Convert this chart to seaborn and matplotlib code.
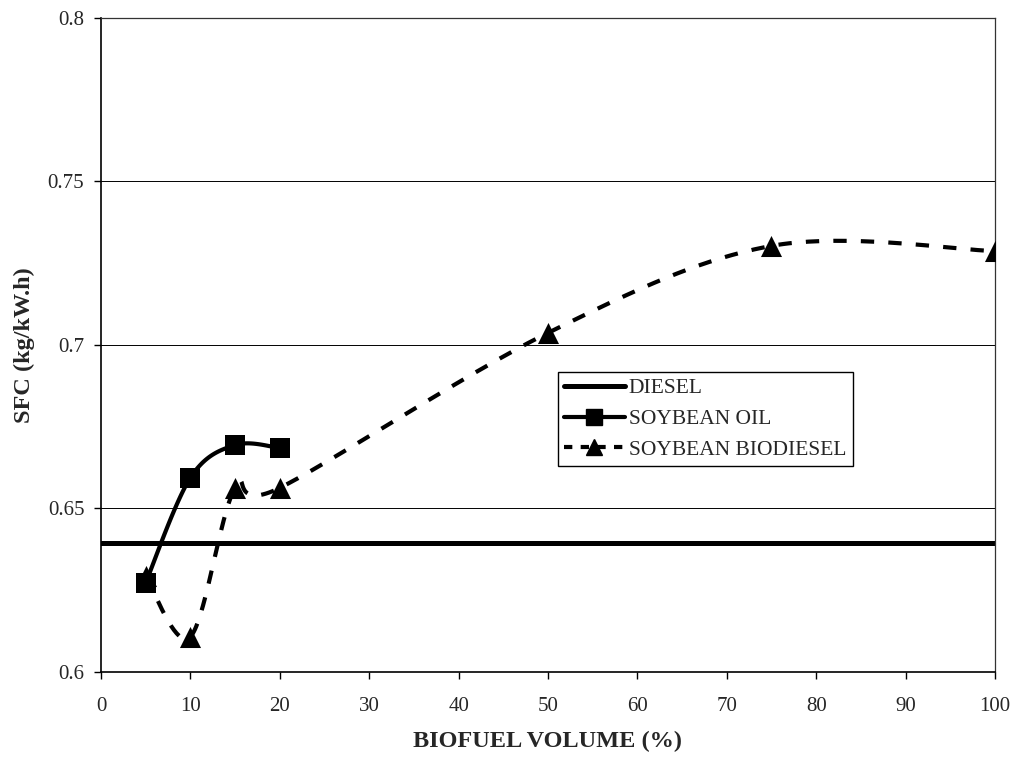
import numpy as np
import pandas as pd
import matplotlib
matplotlib.use("Agg")
import matplotlib.pyplot as plt
import seaborn as sns
from matplotlib.lines import Line2D

# Values
diesel_sfc = 0.6395
oil_volume = [5, 10, 15, 20]
oil_sfc = [0.6273, 0.6594, 0.6694, 0.6685]
bio_volume = [5, 10, 15, 20, 50, 75, 100]
bio_sfc = [0.6292, 0.6108, 0.6563, 0.6563, 0.7037, 0.7303, 0.7287]

XMIN, XMAX = 0, 100
YMIN, YMAX = 0.6, 0.8
AX_W, AX_H = 893, 654  # axes size in pixels, used for Excel-like smoothing


def smooth(xs, ys, n=40):
    """Catmull-Rom curve through the points, computed in screen space."""
    px = (np.asarray(xs, float) - XMIN) / (XMAX - XMIN) * AX_W
    py = (np.asarray(ys, float) - YMIN) / (YMAX - YMIN) * AX_H
    pts = np.column_stack([px, py])
    pts = np.vstack([pts[0], pts, pts[-1]])
    out = []
    for i in range(1, len(pts) - 2):
        p0, p1, p2, p3 = pts[i - 1], pts[i], pts[i + 1], pts[i + 2]
        c1 = p1 + (p2 - p0) / 6
        c2 = p2 - (p3 - p1) / 6
        t = np.linspace(0, 1, n)[:, None]
        seg = ((1 - t) ** 3) * p1 + 3 * ((1 - t) ** 2) * t * c1 + 3 * (1 - t) * t ** 2 * c2 + t ** 3 * p2
        out.append(seg if i == 1 else seg[1:])
    out = np.vstack(out)
    return (out[:, 0] / AX_W * (XMAX - XMIN) + XMIN,
            out[:, 1] / AX_H * (YMAX - YMIN) + YMIN)


sns.set_style("white")
plt.rcParams['font.family'] = ['Liberation Serif', 'DejaVu Serif']

fig = plt.figure(figsize=(10.16, 7.58), dpi=100)
ax = fig.add_axes([0.0994, 0.1135, 0.8799, 0.8628])

for y in [0.65, 0.7, 0.75]:
    ax.axhline(y, color='black', lw=0.7, zorder=1)

# diesel reference line
ax.axhline(diesel_sfc, color='black', lw=3.6, zorder=2)

sx, sy = smooth(oil_volume, oil_sfc)
sns.lineplot(x=sx, y=sy, ax=ax, color='black', lw=3.0, sort=False, estimator=None, zorder=3)
sns.scatterplot(x=oil_volume, y=oil_sfc, ax=ax, marker='s', s=190, color='black',
                edgecolor='black', linewidth=0, zorder=4)

bx, by = smooth(bio_volume, bio_sfc)
df_bio = pd.DataFrame({'x': bx, 'y': by})
sns.lineplot(data=df_bio, x='x', y='y', ax=ax, color='black', lw=3.0, sort=False,
             estimator=None, zorder=3, dashes=False, linestyle=(0, (3.2, 3.4)))
sns.scatterplot(x=bio_volume, y=bio_sfc, ax=ax, marker='^', s=230, color='black',
                edgecolor='black', linewidth=0, zorder=4)

ax.set_xlim(XMIN, XMAX)
ax.set_ylim(YMIN, YMAX)
ax.set_xticks(range(0, 101, 10))
ax.set_yticks([0.6, 0.65, 0.7, 0.75, 0.8])
ax.set_yticklabels(['0.6', '0.65', '0.7', '0.75', '0.8'])
ax.tick_params(axis='both', direction='out', length=5, width=1, color='black',
               labelsize=15, left=True, bottom=True)
ax.tick_params(axis='x', pad=13)
ax.tick_params(axis='y', pad=7)
for side in ['left', 'bottom']:
    ax.spines[side].set_color('black')
    ax.spines[side].set_linewidth(1.2)
for side in ['top', 'right']:
    ax.spines[side].set_color('#333333')
    ax.spines[side].set_linewidth(0.9)

ax.set_xlabel('BIOFUEL VOLUME (%)', fontsize=17.5, fontweight='bold', labelpad=11)
ax.set_ylabel('SFC (kg/kW.h)', fontsize=17.5, fontweight='bold', labelpad=9)

handles = [
    Line2D([], [], color='black', lw=3.6),
    Line2D([], [], color='black', lw=3.0, marker='s', markersize=11),
    Line2D([], [], color='black', lw=3.0, marker='^', markersize=11, linestyle=(0, (2, 2))),
]
leg = ax.legend(handles, ['DIESEL', 'SOYBEAN OIL', 'SOYBEAN BIODIESEL'],
                loc='upper left', bbox_to_anchor=(0.511, 0.459), fontsize=15.5,
                frameon=True, fancybox=False, framealpha=1, handlelength=2.8,
                handletextpad=0.2, borderpad=0.3, labelspacing=0.5,
                borderaxespad=0)
leg.get_frame().set_edgecolor('black')
leg.get_frame().set_linewidth(1.0)

fig.savefig('out.png', dpi=100)
